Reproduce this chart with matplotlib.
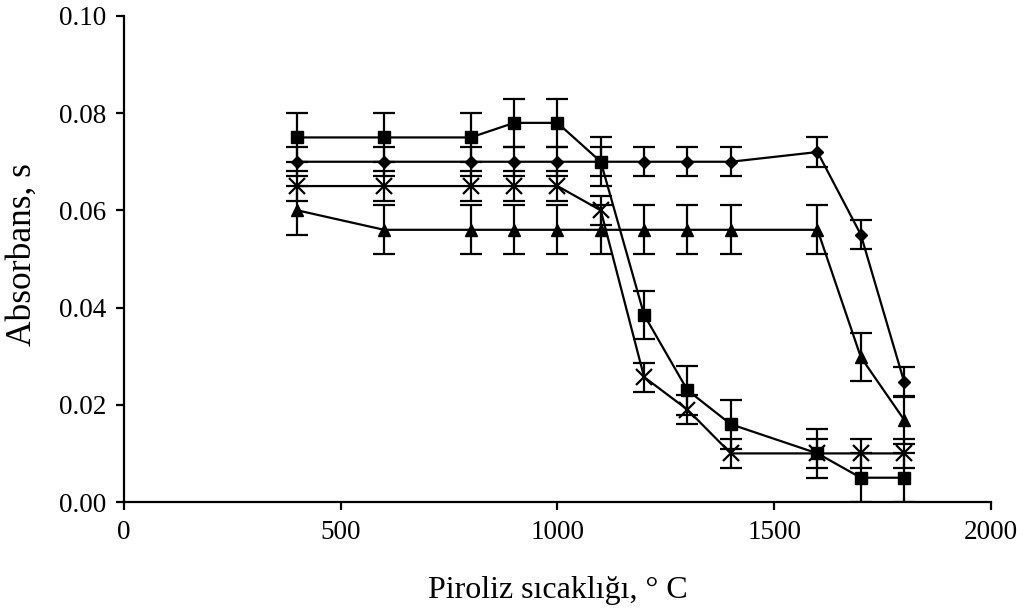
import matplotlib.pyplot as plt

plt.rcParams['font.family'] = ['Liberation Serif', 'DejaVu Serif']

# Pyrolysis temperatures (degrees C)
temps = [400, 600, 800, 900, 1000, 1100, 1200, 1300, 1400, 1600, 1700, 1800]

# absorbance values and their errors for each series
sq_vals = [0.075, 0.075, 0.075, 0.078, 0.078, 0.070, 0.0385, 0.023, 0.016, 0.010, 0.005, 0.005]
sq_err = [0.005, 0.005, 0.005, 0.005, 0.005, 0.005, 0.005, 0.005, 0.005, 0.005, 0.005, 0.005]

dm_vals = [0.070, 0.070, 0.070, 0.070, 0.070, 0.070, 0.070, 0.070, 0.070, 0.072, 0.055, 0.0247]
dm_err = [0.003, 0.003, 0.003, 0.003, 0.003, 0.003, 0.003, 0.003, 0.003, 0.003, 0.003, 0.003]

x_vals = [0.065, 0.065, 0.065, 0.065, 0.065, 0.060, 0.0257, 0.019, 0.010, 0.010, 0.010, 0.010]
x_err = [0.003, 0.003, 0.003, 0.003, 0.003, 0.003, 0.003, 0.003, 0.003, 0.003, 0.003, 0.003]

tr_vals = [0.060, 0.056, 0.056, 0.056, 0.056, 0.056, 0.056, 0.056, 0.056, 0.056, 0.0298, 0.0169]
tr_err = [0.005, 0.005, 0.005, 0.005, 0.005, 0.005, 0.005, 0.005, 0.005, 0.005, 0.005, 0.005]

fig = plt.figure(figsize=(10.3, 6.12), dpi=100)
ax = fig.add_axes([0.1204, 0.1797, 0.8416, 0.7943])

style = dict(color='black', linewidth=1.6, capsize=8, elinewidth=1.6, capthick=1.6)
ax.errorbar(temps, sq_vals, yerr=sq_err, marker='s', markersize=8, **style)
ax.errorbar(temps, dm_vals, yerr=dm_err, marker='D', markersize=6.5, **style)
ax.errorbar(temps, x_vals, yerr=x_err, marker='x', markersize=12, markeredgewidth=1.6, **style)
ax.errorbar(temps, tr_vals, yerr=tr_err, marker='^', markersize=8, **style)

ax.set_xlim(0, 2000)
ax.set_ylim(0, 0.10)
ax.set_xticks([0, 500, 1000, 1500, 2000])
ax.set_yticks([0.00, 0.02, 0.04, 0.06, 0.08, 0.10])
ax.set_yticklabels(['0.00', '0.02', '0.04', '0.06', '0.08', '0.10'])

for side in ['top', 'right']:
    ax.spines[side].set_visible(False)
for side in ['left', 'bottom']:
    ax.spines[side].set_linewidth(1.6)
ax.tick_params(direction='out', length=6, width=1.6, labelsize=19.5, pad=7)

ax.set_xlabel('Piroliz sıcaklığı, ° C', fontsize=23, labelpad=22)
ax.set_ylabel('Absorbans, s', fontsize=25.5, labelpad=11)
ax.yaxis.set_label_coords(-0.098, 0.51)

fig.savefig('out.png', dpi=100)
